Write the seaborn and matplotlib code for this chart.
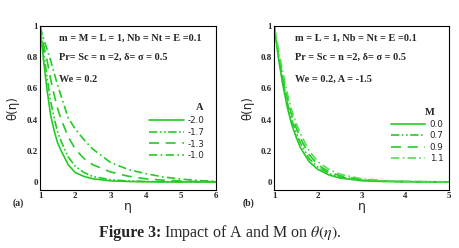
import matplotlib
matplotlib.use("Agg")
import matplotlib.pyplot as plt
from matplotlib.ticker import MultipleLocator, AutoMinorLocator
import seaborn as sns
import pandas as pd

# eta grid for both panels
eta_a = [1.0, 1.1, 1.2, 1.3, 1.4, 1.5, 1.6, 1.8, 2.0, 2.25, 2.5, 3.0, 3.5, 4.0, 4.5, 5.0, 5.5, 6.0]
eta_b = [1.0, 1.1, 1.2, 1.3, 1.4, 1.5, 1.6, 1.8, 2.0, 2.25, 2.5, 3.0, 3.5, 4.0, 4.5, 5.0]

# panel (a): theta for different A
A_labels = ["-2.0", "-1.7", "-1.3", "-1.0"]
theta_A_m20 = [1.0, 0.78, 0.59, 0.43, 0.33, 0.25, 0.20, 0.11, 0.06, 0.035, 0.02, 0.007, 0.003, 0.001, 0.0, 0.0, 0.0, 0.0]
theta_A_m17 = [1.0, 0.84, 0.67, 0.52, 0.41, 0.32, 0.26, 0.16, 0.10, 0.06, 0.035, 0.014, 0.006, 0.003, 0.001, 0.0, 0.0, 0.0]
theta_A_m13 = [1.0, 0.88, 0.78, 0.66, 0.56, 0.47, 0.40, 0.29, 0.21, 0.15, 0.11, 0.064, 0.037, 0.02, 0.011, 0.006, 0.003, 0.001]
theta_A_m10 = [1.0, 0.92, 0.85, 0.78, 0.70, 0.62, 0.55, 0.41, 0.34, 0.27, 0.21, 0.125, 0.08, 0.053, 0.032, 0.018, 0.009, 0.004]

# panel (b): theta for different M
M_labels = ["0.0", "0.7", "0.9", "1.1"]
theta_M_00 = [1.0, 0.79, 0.62, 0.48, 0.37, 0.29, 0.22, 0.13, 0.08, 0.045, 0.025, 0.008, 0.003, 0.001, 0.0, 0.0]
theta_M_07 = [1.0, 0.81, 0.65, 0.51, 0.40, 0.32, 0.25, 0.15, 0.095, 0.055, 0.032, 0.011, 0.004, 0.002, 0.001, 0.0]
theta_M_09 = [1.0, 0.83, 0.67, 0.54, 0.43, 0.35, 0.28, 0.175, 0.11, 0.065, 0.04, 0.015, 0.006, 0.003, 0.001, 0.0]
theta_M_11 = [1.0, 0.85, 0.70, 0.57, 0.46, 0.38, 0.31, 0.20, 0.13, 0.08, 0.05, 0.02, 0.009, 0.004, 0.002, 0.001]

sns.set_style("white")
plt.rcParams["font.family"] = ["Liberation Serif", "DejaVu Serif"]
plt.rcParams["mathtext.fontset"] = "stix"

green = "#22cc22"
dash_styles = ["", (5, 1.5, 1, 1.5, 1, 1.5), (6, 4), (5, 2, 1, 2)]


def long_df(eta, curves, labels, key):
    rows = []
    for lab, vals in zip(labels, curves):
        for e, v in zip(eta, vals):
            rows.append({"eta": e, "theta": v, key: lab})
    return pd.DataFrame(rows)


df_a = long_df(eta_a, [theta_A_m20, theta_A_m17, theta_A_m13, theta_A_m10], A_labels, "A")
df_b = long_df(eta_b, [theta_M_00, theta_M_07, theta_M_09, theta_M_11], M_labels, "M")

fig = plt.figure(figsize=(4.6, 2.48), dpi=100)
ax1 = fig.add_axes([0.087, 0.235, 0.383, 0.660])
ax2 = fig.add_axes([0.596, 0.235, 0.380, 0.660])

pal_a = {k: green for k in A_labels}
pal_b = {"0.0": green, "0.7": green, "0.9": green, "1.1": "#55dd55"}

sns.lineplot(data=df_a, x="eta", y="theta", hue="A", style="A", palette=pal_a,
             dashes=dict(zip(A_labels, dash_styles)), lw=1.2, ax=ax1)
sns.lineplot(data=df_b, x="eta", y="theta", hue="M", style="M", palette=pal_b,
             dashes=dict(zip(M_labels, dash_styles)), lw=1.2, ax=ax2)

# legend placement (anchor x, anchor y) per panel
leg_pos = {ax1: (0.955, 0.47), ax2: (0.99, 0.45)}

for ax, xmax in [(ax1, 6), (ax2, 5)]:
    ax.set_xlim(1, xmax)
    ax.set_ylim(-0.05, 1)
    ax.xaxis.set_major_locator(MultipleLocator(1))
    ax.yaxis.set_major_locator(MultipleLocator(0.2))
    ax.xaxis.set_minor_locator(AutoMinorLocator(5))
    ax.yaxis.set_minor_locator(AutoMinorLocator(4))
    ax.tick_params(which="both", direction="in", top=False, right=False, pad=1.5,
                   labelsize=6.5)
    ax.tick_params(which="major", length=3, width=0.7)
    ax.tick_params(which="minor", length=1.6, width=0.6)
    ax.set_yticks([0, 0.2, 0.4, 0.6, 0.8, 1.0])
    ax.set_yticklabels(["0", "0.2", "0.4", "0.6", "0.8", "1"], fontweight="bold")
    ax.set_xticks(range(1, xmax + 1))
    ax.set_xticklabels([str(i) for i in range(1, xmax + 1)], fontweight="bold")
    for s in ax.spines.values():
        s.set_linewidth(0.8)
        s.set_color("black")
    ax.set_xlabel("η", family="DejaVu Sans", fontsize=9, labelpad=0)
    ax.set_ylabel("θ(η)", family="DejaVu Sans", fontsize=8.5, labelpad=5)

    handles, labels = ax.get_legend_handles_labels()
    ax.legend(handles, labels, frameon=False, loc="upper right",
              bbox_to_anchor=leg_pos[ax], handlelength=3.9,
              handletextpad=0.5, labelspacing=0.3, borderaxespad=0,
              prop={"family": "DejaVu Sans", "size": 6.3})

ax1.text(0.885, 0.50, "A", transform=ax1.transAxes, fontsize=7.5, fontweight="bold",
         va="center")
ax2.text(0.865, 0.47, "M", transform=ax2.transAxes, fontsize=7.5, fontweight="bold",
         va="center")

txt_a = ["m = M = L = 1, Nb = Nt = E =0.1", "Pr= Sc = n =2, δ= σ = 0.5", "We = 0.2"]
txt_b = ["m = L = 1, Nb = Nt = E =0.1", "Pr = Sc = n =2, δ= σ = 0.5", "We = 0.2, A = -1.5"]
ys = [0.927, 0.811, 0.676]
for ax, lines, x0 in [(ax1, txt_a, 0.11), (ax2, txt_b, 0.12)]:
    for y, t in zip(ys, lines):
        ax.text(x0, y, t, transform=ax.transAxes, fontsize=7.4,
                fontweight="bold", va="center")

fig.text(13 / 460, 1 - 203 / 248, "(a)", fontsize=7, fontweight="bold", va="center")
fig.text(243 / 460, 1 - 203 / 248, "(b)", fontsize=7, fontweight="bold", va="center")

# caption: bold prefix then regular text
cy = 1 - 233 / 248
t1 = fig.text(99 / 460, cy, "Figure 3:", fontsize=11.5, fontweight="bold", va="center")
fig.canvas.draw()
bb = t1.get_window_extent()
fig.text((bb.x1 + 3) / 460, cy, r"Impact of A and M on $\theta(\eta)$.", fontsize=11.5,
         va="center")

fig.savefig("out.png", dpi=100)
